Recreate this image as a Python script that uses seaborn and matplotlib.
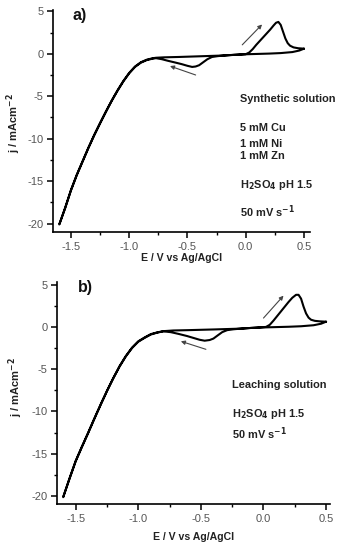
import numpy as np
import pandas as pd
import seaborn as sns
import matplotlib.pyplot as plt
from matplotlib.ticker import MultipleLocator

sns.set_style('ticks')
plt.rcParams['font.family'] = ['Liberation Sans', 'DejaVu Sans']
plt.rcParams['mathtext.default'] = 'bf'

# Voltammograms: scan starts at +0.5 V, goes to -1.6 V and back
e_a = [0.50, 0.46, 0.40, 0.30, 0.20, 0.10, 0.00, -0.10, -0.18, -0.24, -0.29, -0.33,
       -0.37, -0.40, -0.43, -0.46, -0.50, -0.55, -0.60, -0.67, -0.72, -0.77,
       -0.80, -0.85, -0.90, -0.95, -1.00, -1.05, -1.10, -1.15, -1.20, -1.25, -1.30,
       -1.35, -1.40, -1.45, -1.50, -1.55, -1.60,
       -1.55, -1.50, -1.45, -1.40, -1.35, -1.30, -1.25, -1.20, -1.15, -1.10, -1.05,
       -1.00, -0.95, -0.90, -0.85, -0.80, -0.77, -0.70, -0.58, -0.40, -0.18, 0.00,
       0.03, 0.06, 0.09, 0.12, 0.15, 0.18, 0.21, 0.24, 0.26, 0.28, 0.30, 0.32, 0.34,
       0.36, 0.38, 0.41, 0.45, 0.50]
j_a = [0.60, 0.38, 0.20, 0.08, 0.02, -0.02, -0.06, -0.12, -0.20, -0.28, -0.38, -0.65,
       -1.05, -1.35, -1.50, -1.55, -1.42, -1.22, -1.05, -0.82, -0.64, -0.52,
       -0.58, -0.75, -1.05, -1.55, -2.30, -3.25, -4.35, -5.55, -6.85, -8.20, -9.60,
       -11.10, -12.70, -14.30, -16.10, -18.20, -20.10,
       -18.15, -16.05, -14.25, -12.65, -11.05, -9.55, -8.15, -6.80, -5.50, -4.30, -3.20,
       -2.25, -1.50, -1.00, -0.70, -0.53, -0.47, -0.42, -0.38, -0.30, -0.20, -0.05,
       0.15, 0.55, 1.05, 1.50, 1.95, 2.40, 2.85, 3.35, 3.65, 3.75, 3.40, 2.60, 1.80,
       1.25, 0.95, 0.75, 0.65, 0.60]

e_b = [0.50, 0.46, 0.40, 0.30, 0.20, 0.10, 0.00, -0.10, -0.18, -0.24, -0.29, -0.33,
       -0.37, -0.40, -0.43, -0.47, -0.51, -0.56, -0.61, -0.68, -0.74, -0.80,
       -0.85, -0.90, -0.95, -1.00, -1.05, -1.10, -1.15, -1.20, -1.25, -1.30,
       -1.35, -1.40, -1.45, -1.50, -1.55, -1.60,
       -1.55, -1.50, -1.45, -1.40, -1.35, -1.30, -1.25, -1.20, -1.15, -1.10, -1.05,
       -1.00, -0.95, -0.90, -0.85, -0.80, -0.72, -0.60, -0.40, -0.18, 0.02,
       0.05, 0.08, 0.11, 0.14, 0.17, 0.20, 0.23, 0.26, 0.28, 0.30, 0.32, 0.34,
       0.36, 0.38, 0.41, 0.45, 0.50]
j_b = [0.62, 0.38, 0.20, 0.08, 0.02, -0.02, -0.06, -0.12, -0.20, -0.28, -0.38, -0.62,
       -1.05, -1.38, -1.55, -1.63, -1.52, -1.30, -1.08, -0.82, -0.62, -0.52,
       -0.68, -0.90, -1.30, -1.75, -2.50, -3.50, -4.70, -6.10, -7.60, -9.20,
       -10.85, -12.55, -14.20, -15.90, -18.00, -20.15,
       -17.95, -15.85, -14.15, -12.50, -10.80, -9.15, -7.55, -6.05, -4.65, -3.45, -2.45,
       -1.70, -1.25, -0.85, -0.65, -0.50, -0.42, -0.38, -0.30, -0.20, 0.00,
       0.25, 0.75, 1.30, 1.85, 2.40, 2.95, 3.45, 3.80, 3.80, 3.35, 2.40, 1.60,
       1.10, 0.85, 0.72, 0.66, 0.62]

notes_a = ['Synthetic solution', '5 mM Cu', '1 mM Ni', '1 mM Zn',
           'H$_\\mathbf{2}$SO$_\\mathbf{4}$ pH 1.5', '50 mV s$^\\mathbf{-1}$']
notes_b = ['Leaching solution', 'H$_\\mathbf{2}$SO$_\\mathbf{4}$ pH 1.5',
           '50 mV s$^\\mathbf{-1}$']

fig = plt.figure(figsize=(3.39, 5.5), dpi=100)
ax1 = fig.add_axes([0.157, 0.578, 0.757, 0.403])
ax2 = fig.add_axes([0.169, 0.083, 0.804, 0.404])


def draw(ax, e, j, tag, notes, note_x, note_y, xlim, ylim, arrows, ylab_x, ylab_y, xlab_y):
    d = pd.DataFrame({'E': e, 'j': j})
    sns.lineplot(data=d, x='E', y='j', sort=False, estimator=None, color='black',
                 lw=1.5, ax=ax)
    ax.set_xlim(*xlim)
    ax.set_ylim(*ylim)
    ax.set_xticks([-1.5, -1.0, -0.5, 0.0, 0.5])
    ax.set_yticks([-20, -15, -10, -5, 0, 5])
    ax.set_yticklabels(['-20', '-15', '-10', '-5', '0', '5'])
    ax.set_xticklabels(['-1.5', '-1.0', '-0.5', '0.0', '0.5'])
    ax.xaxis.set_minor_locator(MultipleLocator(0.25))
    ax.yaxis.set_minor_locator(MultipleLocator(2.5))
    ax.tick_params(which='major', length=4, width=1.1, labelsize=8, colors='black',
                   labelcolor='#555555', pad=3)
    ax.tick_params(which='minor', length=2.5, width=1.0, colors='black')
    sns.despine(ax=ax)
    for s in ['left', 'bottom']:
        ax.spines[s].set_linewidth(1.2)
        ax.spines[s].set_color('black')
    ax.set_xlabel('E / V vs Ag/AgCl', fontsize=7.6, fontweight='bold', color='#222222')
    ax.set_ylabel('j / mAcm$^{-2}$', fontsize=8, fontweight='bold', color='#222222')
    ax.xaxis.set_label_coords(0.5, xlab_y)
    ax.yaxis.set_label_coords(ylab_x, ylab_y)
    ax.text(0.075, 0.975, tag, transform=ax.transAxes, fontsize=11.5, fontweight='bold',
            va='center', ha='left', color='#111111')
    for t, yy in zip(notes, note_y):
        ax.text(note_x, yy, t, transform=ax.transAxes, fontsize=7.9, fontweight='bold',
                va='center', ha='left', color='#222222')
    for (x0, y0, x1, y1) in arrows:
        ax.annotate('', xy=(x1, y1), xytext=(x0, y0),
                    arrowprops=dict(arrowstyle='-|>', color='#444444', lw=0.8,
                                    mutation_scale=6, shrinkA=0, shrinkB=0))


draw(ax1, e_a, j_a, 'a)', notes_a, 0.727, [0.601, 0.470, 0.398, 0.344, 0.213, 0.093],
     (-1.652, 0.55), (-21.0, 5.1),
     [(-0.03, 1.05, 0.14, 3.45), (-0.43, -2.5, -0.65, -1.45)], -0.118, 0.49, -0.095)
draw(ax2, e_b, j_b, 'b)', notes_b, 0.64, [0.537, 0.406, 0.316],
     (-1.647, 0.53), (-21.0, 5.3),
     [(0.0, 1.05, 0.16, 3.7), (-0.46, -2.65, -0.66, -1.7)], -0.118, 0.53, -0.125)

fig.savefig('out.png', dpi=100)
